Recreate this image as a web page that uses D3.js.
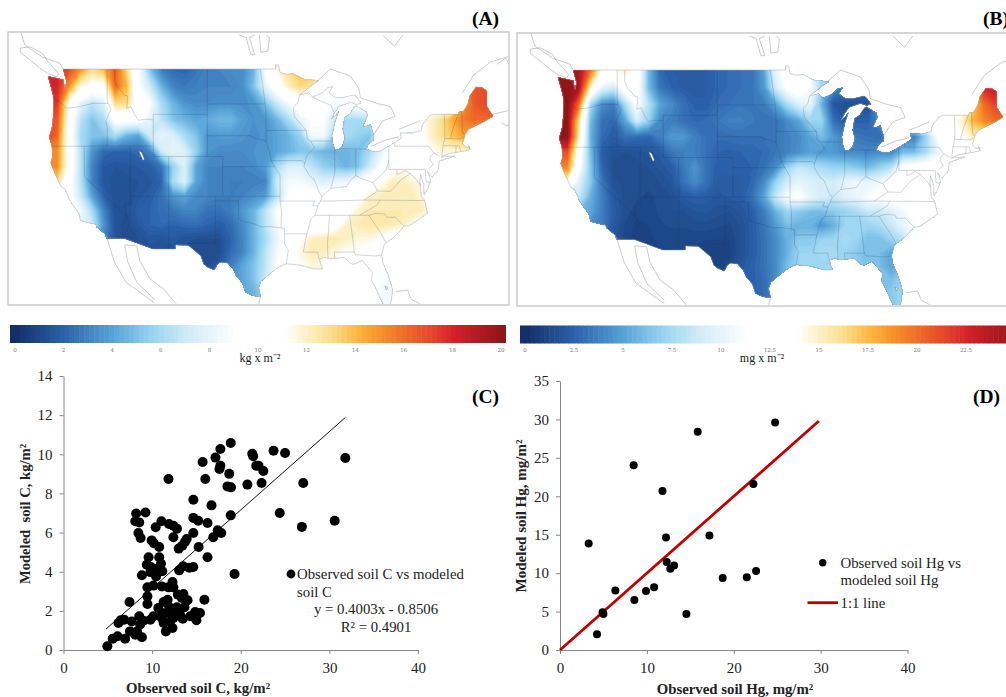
<!DOCTYPE html>
<html><head><meta charset="utf-8">
<style>html,body{margin:0;padding:0;background:#fff;overflow:hidden}svg{display:block}</style>
<script src="https://d3js.org/d3.v7.min.js"></script></head><body>
<svg id="c" width="1006" height="697" xmlns="http://www.w3.org/2000/svg"></svg>
<script>
// ---------- Soil fields (40 columns, -125..-66.5 by 1.5 deg; rows from 49 down to 25 N)
const fieldLons = d3.range(40).map(i => -125 + i * 1.5);
const fieldLats = [50.5, 49, 47.5, 46, 44.5, 43, 41.5, 40, 38.5, 37, 35.5, 34, 32.5, 31, 29.5, 28, 26.5, 25];
const soilC = [
[18,18,17,15,13,14,16.5,13,9,5,2.8,2.2,2,2.5,3,3,3.2,3.2,4.5,9,11.5,13,14,14,12,10,10,10,10,10,10,10,10,10,10,10,12,15,16,16],
[18,18,17,15,13,14,16.5,13,9,5,2.8,2.2,2,2.5,3,3,3.2,3.2,4.5,9,11.5,13,14,14,12,10,10,10,10,10,10,10,10,10,10,10,12,15,16,16],
[18,18,15,11.5,10.5,10.5,16,14,9,7,4.5,3,2.6,2.8,3,3,3,3.3,5,8,10,12,13,12.5,10,10,10,10,10,10,10,10,10,10,10,10,15,16.5,17,17],
[17.5,17.5,11,8,6.5,7.5,13,13,10,9,6,4.5,3.5,3.2,3.2,3.4,3.4,3.3,3.5,5,7,8.5,10,10,9.5,8.5,9,9.5,10,10,10,10,10,10,10,10,14,16.5,17,17],
[17,16.5,10.5,6.5,5,6,9.5,9.5,9.5,8,6.5,5,4.5,4,4.2,4.6,4.6,3.8,3.4,3.5,4.5,6,8,9,9,7,6,6,6.5,9,10,10,10,11.5,12.5,14,15.5,16,16,16],
[17.5,16,10,6,5,5,6,4.5,4,7,8,7.5,6,5,3.5,3.7,3.7,3.5,3.3,3.5,4,4.5,5.5,8.5,8.5,5.5,6,5.5,5,8,9.5,10,10,11.5,12.5,13.5,14.5,14.5,14,14],
[15,15,10.5,6.5,3.5,2.2,2,2,2.2,3,7,8,7.5,5.5,3.5,3.2,3.2,3.2,3.4,3.5,4,4.5,5,5,4.5,4.5,4.5,4.8,6,8,9.5,10,10,10.8,11.5,11.5,11.5,12,12,12],
[15,15,10.5,6.5,3,1.6,1.4,1.5,1.6,1.8,2.5,5.5,7.5,4,3,3,3,3,3.2,3.8,6,7.5,7.5,6.5,5.5,5,4.5,5,7,9,10.5,11,10.5,10,10,10,10,10,10,10],
[13,13,9.5,6.5,3,1.5,1.3,1.3,1.4,1.5,2,6,7.5,4,3,3,2.8,2.8,2.8,3,7,8.5,8.5,8,7.5,8,8.2,9,10,11,12,12,11.5,11,10,10,10,10,10,10],
[12,11,9.5,7,4,2,1.2,1.2,1.5,1.8,2.4,3.5,4,3.2,3,2.9,2.8,3,3.4,3.8,6.5,9,9.5,9.5,9.5,10,10,10.5,11.8,12,12,12,12,11,10,10,10,10,10,10],
[10,10,9.5,8.5,6,3,1.2,1.2,1.8,2,2.3,2.6,3,3,2.4,2.4,2.8,3.6,4.5,6.5,9,10,10,10,9.5,9.5,10.5,11.7,12.2,12.2,12.2,12.2,12.2,11.7,10,10,10,10,10,10],
[10,10,9,8,7,3.5,1.3,1.1,1.6,2,2.2,2,2.2,2.3,2,1.8,2.2,3.2,4.5,6.5,8.5,10,10,9.5,9.7,10.5,11.8,12.2,12.4,12.4,12.2,11.8,11,10,10,10,10,10,10,10],
[10,9,8,7,5,3,1.5,1,1.2,1.5,1.4,1.6,1.3,1.2,1.2,1.2,2,3,4.5,6,8,10,10.8,12,12.2,12.3,12,11.5,11.5,11,10,10,10,10,10,10,10,10,10,10],
[10,9,8,7,5,3,1.5,1,1.2,1.3,1.2,1.2,1.1,1,1,1.1,2.2,3,4.5,6.5,8.5,9.8,11.5,12.2,12,11.5,11,11,10.5,10,10,10,10,10,10,10,10,10,10,10],
[10,9,8,7,5,3,1.5,1.2,1.2,1.2,1.2,1.2,1.2,1.2,1.2,1.6,2.8,4,5,6.5,9,10,11,11.5,11.5,11,10.5,10,10,9.5,9,9,10,10,10,10,10,10,10,10],
[10,9,8,7,5,3,2,2,2,2,2,2,2,2,2,2,3.5,4,5,7,9.5,10,10.5,11,11,10.5,10,10,10,9,8,9,10,10,10,10,10,10,10,10],
[10,9,8,7,5,3,2,2,2,2,2,2,2,2,2,2,3.5,4,4.5,6,9,10,10,10,10,10,10,10,10,8.5,8.5,9,10,10,10,10,10,10,10,10],
[10,9,8,7,5,3,2,2,2,2,2,2,2,2,2,2,3.5,4,4.5,6,9,10,10,10,10,10,10,10,10,8.5,8.5,9,10,10,10,10,10,10,10,10]
];
const soilHg = [
[25,25,24,20,14,13.5,15,13,6,2.6,2.3,2,2,2.2,2.6,2.8,3,3,5,10,12.5,14.5,11,7,7,12,12,12,12,12,12,12,12,12,12,13,17,21,22,22],
[25,25,24,20,14,13.5,15,13,6,2.6,2.3,2,2,2.2,2.6,2.8,3,3,5,10,12.5,14.5,11,7,7,12,12,12,12,12,12,12,12,12,12,13,17,21,22,22],
[25,25,24,15,10,9,12.5,12.5,6,3.2,2.5,2.2,2,2.2,2.6,2.8,3,3.2,4.5,9,11.5,12.5,11,7,4,3,3,3,8,12,12,12,12,12,12,13,18,22.5,23,23],
[25,25,20,7.5,4,3.5,7.5,11.5,8,5,4,3,2.4,2.3,2.8,3,3.2,3.2,3.5,5,7.5,9.5,10,5.5,2,1.6,1.4,1.5,5,12,12,12,12,12,12,12.5,16,20,21.5,21.5],
[25,25,16,6,3,2.6,5,9,7,4,3.5,3,2.7,2.8,3.2,3.6,3.6,3.3,3,3,4,5,7,7,3,2,2.4,2.4,4,11,12.5,12.5,12.5,12.5,13,14.5,17.5,19,20,20],
[25,25,15,5.5,2.8,2.2,3,2.8,2.6,3.5,4.5,4.5,3.6,3,2.8,2.9,3,3,3,3.2,3.6,4,5,6,4.5,3.6,3.2,3,2.8,3.5,3.5,3.6,7,11,12.5,13.5,15,15,15,15],
[21,21,12.5,6,2.2,1.6,1.5,1.6,1.8,2.2,3.2,3.5,3.5,3,2.5,2.4,2.5,2.5,2.8,3.2,3.6,4.2,4.8,4.5,4.5,4,4,3.8,4,3.8,6,6,7.5,10,12.5,13,13,13,13,13],
[19,19,11.5,6.5,2.6,1.4,1.4,1.4,1.5,1.8,2.2,3.2,4.4,3,2.3,2.3,2.3,2.5,3,4,7,8.5,8,7.5,7,7,6.5,6,7,8,12,12.5,12.5,12.5,12.5,12.5,12.5,12.5,12.5,12.5],
[14,14,9.5,6.5,3.2,1.6,1.4,1.3,1.3,1.5,1.8,3,4,3,2.2,2.2,2.2,2.6,4,7,9,10,9.5,9,9,10,10.5,10,10.5,12,13,13.5,13,12.5,12.5,12.5,12.5,12.5,12.5,12.5],
[10,9,8.5,5.5,3.5,2,1.4,1.3,1.2,1.3,1.5,2,2.3,2.2,1.9,2,2.2,3,5,8.5,11,11.5,10,9,8.5,9.5,10,11,11.5,12,12.5,12.5,12.5,12.5,12.5,12.5,12.5,12.5,12.5,12.5],
[8,7,6,5,3.5,2.2,1.4,1.1,1.1,1.3,1.5,1.5,1.7,1.8,1.6,1.5,1.8,2.3,3.5,5.5,7,6.5,6,6,6.5,7,7.5,8.5,8.5,9.5,10.5,11.5,12,12,12,12,12,12,12,12],
[6,5,4.5,4,3.5,2,1.2,0.9,1,1.2,1.3,1.3,1.4,1.4,1.3,1.2,1.5,2.2,3.2,4.5,6,5.5,5.5,4.5,5.5,7,7,7,7.5,8.5,10,11,12,12,12,12,12,12,12,12],
[4,4,3,3,2.5,2,1.1,0.9,0.9,1.1,1,1,1,1,1,1,1.5,2.2,3,4,5.5,6.5,6.5,7,7,7.5,7,6,6,7,8,10,12,12,12,12,12,12,12,12],
[3,3,3,2,2,1.5,1,0.9,0.9,1,1,1,1,0.8,0.8,0.9,1.5,2.2,3,4,5.5,7,7,7.5,7.5,7,6.5,6,6,5,6,8,10,12,12,12,12,12,12,12],
[3,3,3,2,2,1.5,1,1,1,1,1,1,1,1,1,1.2,1.9,2.4,3,4,6,7,7,7,7,7,6.5,6,6,5,6,8,10,12,12,12,12,12,12,12],
[3,3,3,2,2,1.5,1,1,1,1,1,1,1,1,1.5,2,2.2,2.4,2.8,4,6,7,7,7,7,7,6.5,6,6,6,7,8,10,12,12,12,12,12,12,12],
[3,3,3,2,2,1.5,1,1,1,1,1,1,1,1,1.5,2,2.2,2.4,2.8,4,6,7,7,7,7,7,6.5,6,6,6.5,7,8,10,12,12,12,12,12,12,12],
[3,3,3,2,2,1.5,1,1,1,1,1,1,1,1,1.5,2,2.2,2.4,2.8,4,6,7,7,7,7,7,6.5,6,6,6.5,7,8,10,12,12,12,12,12,12,12]
];
// ---------- Colour ramp (share of the scale, colour)
const rampStops = [0, .1, .2, .275, .35, .45, .55, .6, .65, .7, .75, .8, .85, .9, 1];
const rampColors = ["#14306b","#2d64ad","#5aa5d9","#97d3f1","#d0ebf8","#ffffff","#ffffff","#fcefc0","#fbdc85","#fdb63f","#f68f2b","#ee6a28","#e5482a","#d2212a","#8d1518"];
// ---------- Colour bar ticks
const ticksBarA = [0,2,4,6,8,10,12,14,16,18,20];
const ticksBarB = [0,2.5,5,7.5,10,12.5,15,17.5,20,22.5,25];
// ---------- Scatter C
const obsC = [31.8,30.6,27.05,26.9,25,24.4,23.7,22.55,22.35,22,21.75,21.4,21.3,20.75,19.3,18.87,18.87,18.9,18.5,18.7,17.7,17.15,17.7,17.6,17.8,17.4,16.9,16.7,16.25,16.25,16,15.7,15.9,15.25,15.2,14.65,14.65,14.65,11.85,8.2,9.25,8.1,8.55,8.45,8.7,9.95,10.2,10.8,10.4,11.05,11.9,12.4,12.8,12.4,13,13.4,13.7,13.9,13.05,13.5,14.2,14.65,9.6,10.8,9.4,9.85,8.85,9.8,10.5,11,11.15,10.45,9.47,10.15,11.1,11.85,12.3,12.4,9.47,9.47,7.45,12.9,13.53,13.35,14,11.3,11.75,10.7,11.95,12.8,13.65,11.15,11.85,12.4,13.15,14.3,14.85,15.4,15,13.45,12.4,11.1,11.3,12,11.55,12.3,10.15,9.8,9,8.55,7.7,6.85,6.2,6.45,8.65,8.3,7.5,8.1,8.85,6.95,6.1,5.55,4.95];
const modC = [9.81,6.6,8.53,6.29,10.07,7,10.18,9.15,8.53,9.42,9.42,9.9,10.03,8.45,3.88,10.58,6.88,8.31,8.36,9,10.27,9.83,9.42,9.25,5.98,6.12,5.76,7.39,6.49,4.74,8.74,9.61,2.57,5.26,6.6,6.75,5.98,7.68,8.74,6.97,7.03,6.58,6.52,5.98,5.72,5.6,5.45,5.26,6.27,6.58,6.44,6.35,6.2,5.76,5.18,5.33,5.52,5.67,4.07,4.28,4.2,4.24,4.74,4.74,4.36,4.24,3.82,3.98,4.15,4.41,4.02,3.76,3.2,3.29,3.25,3.2,3.47,3.2,2.74,2.35,2.45,2.83,2.86,2.66,2.54,2.45,2.57,2.15,2.18,2.18,2.18,1.89,1.89,1.89,1.8,1.72,1.94,1.89,1.52,1.6,1.64,1.64,1.38,1.43,0.95,1.12,1.72,1.55,1.5,1.72,1.46,1.55,1.38,1.52,1.3,0.95,0.95,0.78,0.65,0.58,0.7,0.58,0.19];
const fitC = {slope: 0.4003, intercept: -0.8506, xFrom: 4.8, xTo: 31.8};
// ---------- Scatter D
const obsHg = [24.76,15.85,8.48,11.8,22.26,3.3,12.2,17.2,12.28,13.13,12.7,22.57,21.5,18.73,10.83,9.9,6.37,8.56,4.9,5,14.55,4.26];
const modHg = [29.6,28.4,24.05,20.7,21.6,13.87,14.65,14.9,11.44,11,10.57,10.27,9.45,9.36,8.15,7.67,7.75,6.5,4.9,4.68,4.68,2.04];
const oneToOne = [0, 29.8];
// ---------- Basemap in lon/lat
const usOutline = [[-124.7,48.38],[-123.1,48.15],[-122.75,48.15],[-122.5,47.3],[-122.3,47.9],[-122.75,49],[-95.15,49],[-95.15,49.38],[-94.8,49.3],[-94.6,48.7],[-93.8,48.55],[-92.95,48.62],[-92,48.3],[-91.4,48.07],[-90.75,48.1],[-89.6,48],[-90.5,47.6],[-92.1,46.75],[-90.9,46.95],[-90.4,46.55],[-89.1,46.95],[-88.4,47.4],[-87.8,47.47],[-88.3,46.95],[-87.4,46.5],[-86.5,46.5],[-85,46.75],[-84.6,46.47],[-84.1,46],[-84.7,45.9],[-85.5,46.08],[-86.5,45.85],[-87,45.7],[-87.6,45.1],[-88,44.55],[-87.4,44.9],[-87.05,45.25],[-87.5,44.3],[-87.9,43],[-87.8,42.3],[-87.5,41.65],[-87,41.7],[-86.5,42.1],[-86.2,42.8],[-86.5,43.6],[-86.25,44.7],[-85.6,45],[-85,45.65],[-84.75,45.78],[-83.4,45.2],[-83.3,44.8],[-83.9,43.9],[-83.4,43.9],[-82.9,44.05],[-82.45,43],[-82.5,42.6],[-83.1,42.25],[-83.45,41.73],[-82.7,41.5],[-81.7,41.5],[-80.5,42],[-79,42.7],[-78.9,42.9],[-79.05,43.27],[-77.5,43.25],[-76.3,43.5],[-76.2,44],[-75.3,44.85],[-74.7,45],[-71.5,45],[-71.4,45.25],[-70.85,45.25],[-70.3,45.9],[-70,46.7],[-69.2,47.45],[-68.3,47.35],[-67.8,47.07],[-67.8,45.7],[-67.45,45.3],[-67,44.85],[-68.2,44.3],[-69.1,44],[-70.2,43.6],[-70.7,43.05],[-70.8,42.6],[-71,42.3],[-70.6,41.95],[-70,41.8],[-70.2,42.07],[-69.95,41.68],[-70.65,41.55],[-71.4,41.45],[-72.9,41.25],[-73.7,40.95],[-72,41.05],[-73.95,40.55],[-74,40.4],[-74.1,39.7],[-74.9,38.95],[-75.5,39.5],[-75.1,38.7],[-75.4,37.9],[-75.95,37.15],[-76,38.2],[-76.4,39.2],[-76.5,38.4],[-76.3,37],[-75.9,36.6],[-75.5,35.25],[-76.5,34.65],[-77.9,33.9],[-78.55,33.85],[-79.2,33.2],[-80,32.55],[-81.1,31.9],[-81.45,30.7],[-81.3,29.8],[-80.6,28.4],[-80.05,26.8],[-80.15,25.75],[-80.4,24.8],[-81.1,24.8],[-81.8,26.1],[-82.2,26.9],[-82.75,27.8],[-82.65,28.7],[-83.3,29.4],[-84,30.1],[-85,29.65],[-85.4,29.7],[-86.3,30.4],[-87.5,30.3],[-88,30.25],[-88.9,30.4],[-89.5,30.2],[-89.4,29.8],[-89.1,29.1],[-90.2,29.1],[-91.3,29.4],[-92.2,29.55],[-93.8,29.7],[-94.7,29.4],[-95.9,28.6],[-97.1,27.7],[-97.4,27],[-97.15,25.95],[-97.6,25.95],[-98.2,26.05],[-99.1,26.4],[-99.5,27.5],[-100.3,28.3],[-100.7,29.1],[-101.4,29.77],[-102.3,29.88],[-102.7,29.7],[-103.15,28.98],[-104,29.3],[-104.5,29.65],[-104.9,30.6],[-106.5,31.75],[-108.2,31.78],[-108.2,31.33],[-111.07,31.33],[-114.8,32.5],[-117.12,32.53],[-117.3,33],[-118.4,33.75],[-118.5,34.03],[-119.2,34.15],[-120.5,34.45],[-120.65,35.15],[-121.9,36.6],[-122.5,37.75],[-123,38],[-123.8,39.3],[-124.35,40.4],[-124.1,41],[-124.2,42],[-124.55,42.85],[-124.1,44],[-123.95,46.2],[-124.1,46.9],[-124.7,48.38]];
const stateLines = [
[[-124,46.25],[-123.2,46.15],[-122.3,45.55],[-121,45.65],[-119.2,45.93],[-119,46],[-116.92,46]],
[[-117.03,49],[-117.04,46.4],[-116.92,46],[-116.5,45.5],[-116.9,44.9],[-117.2,44.4],[-117.03,43.8],[-117.03,42]],
[[-124.2,42],[-111.05,42]],
[[-120,42],[-120,39],[-114.63,35]],
[[-114.05,42],[-114.05,36.2],[-114.75,36.1],[-114.63,35],[-114.14,34.3],[-114.5,33.4],[-114.72,32.72]],
[[-116.05,49],[-116.05,48],[-115.7,47.45],[-114.7,46.7],[-114.35,46.65],[-114.5,45.55],[-113.95,45.7],[-113.45,44.95],[-113,44.45],[-112,44.55],[-111.05,44.48],[-111.05,42]],
[[-111.05,45],[-104.05,45],[-104.05,41],[-111.05,41],[-111.05,42]],
[[-111.05,45],[-111.05,44.48]],
[[-104.05,49],[-104.05,45]],
[[-104.05,45.94],[-96.56,45.94]],
[[-104.05,43],[-98.5,43],[-97.9,42.8],[-96.45,42.5]],
[[-104.05,41],[-102.05,41],[-102.05,37]],
[[-102.05,40],[-95.3,40]],
[[-109.05,41],[-109.05,31.33]],
[[-114.05,37],[-94.62,37]],
[[-103,37],[-103,32],[-106.6,32],[-106.5,31.75]],
[[-103,36.5],[-100,36.5],[-100,34.56],[-99.2,34.3],[-98,34.1],[-97,33.75],[-96,33.8],[-94.48,33.64]],
[[-94.62,37],[-94.62,36.5],[-94.43,35.4],[-94.48,33.64],[-94.04,33.55],[-94.04,31.9],[-93.55,31.2],[-93.8,29.7]],
[[-94.04,33],[-91.15,33],[-91.5,31.5],[-91.6,31],[-89.75,31],[-89.55,30.2]],
[[-91.15,33],[-90.6,34.6],[-90.1,35],[-89.7,36],[-89.4,36.5],[-89.15,37]],
[[-94.62,36.5],[-90.15,36.5],[-90.37,36],[-89.7,36]],
[[-97.2,49],[-96.85,47.5],[-96.56,45.94],[-96.45,45.3],[-96.45,42.5],[-96,41.5],[-95.8,40.6],[-95.3,40],[-94.62,39.1],[-94.62,37]],
[[-96.45,43.5],[-91.22,43.5]],
[[-95.77,40.58],[-91.73,40.6],[-91.42,40.38]],
[[-92.1,46.75],[-92.3,46.1],[-92.9,45.6],[-92.75,44.75],[-91.22,43.5],[-91.1,42.7],[-90.65,42.5],[-90.15,41.8],[-91.1,41.2],[-91.42,40.38],[-91.5,40],[-90.7,39],[-90.2,38.7],[-89.5,37.3],[-89.15,37]],
[[-90.65,42.5],[-87.8,42.5]],
[[-90.4,46.55],[-89.1,46.13],[-88,45.8],[-87.6,45.1]],
[[-87.53,41.7],[-87.53,39.35],[-87.95,38],[-88.05,37.8]],
[[-89.15,37],[-88.05,37.8],[-87,37.9],[-86,38],[-85.4,38.7],[-84.8,39.1],[-84,38.8],[-82.6,38.4],[-81.7,39],[-80.85,39.7],[-80.52,40.64]],
[[-84.8,39.1],[-84.8,41.73]],
[[-86.8,41.76],[-84.8,41.73],[-83.45,41.73]],
[[-80.52,42],[-80.52,39.72],[-75.8,39.72],[-75.7,38.46],[-75.05,38.45]],
[[-79.76,42.27],[-79.76,42],[-75.35,42],[-74.7,41.36],[-75.1,41],[-75.2,40.7],[-74.75,40.2],[-75.4,39.8]],
[[-74.7,41.36],[-73.9,41]],
[[-73.65,41],[-73.5,42.05],[-73.27,42.75],[-73.25,43.6],[-73.35,45]],
[[-71.5,45],[-72.05,44],[-72.45,43],[-72.45,42.73]],
[[-73.27,42.75],[-71.3,42.7],[-70.8,42.87]],
[[-73.5,42.05],[-71.38,42.02],[-71.2,41.5]],
[[-71.8,42.02],[-71.85,41.32]],
[[-71.08,45.3],[-70.98,43.4],[-70.7,43.07]],
[[-79.48,39.72],[-79.48,39.2],[-78.4,39.6],[-77.7,39.3],[-77.05,38.8],[-76.3,38]],
[[-77.7,39.3],[-78.85,38.75],[-80.3,37.5],[-81.97,37.54],[-83.68,36.6]],
[[-82.6,38.4],[-81.97,37.54]],
[[-75.9,36.55],[-81.68,36.59],[-83.68,36.6],[-88.07,36.5],[-89.4,36.5]],
[[-81.68,36.59],[-82,36.1],[-84.3,35]],
[[-90.1,35],[-83.1,35]],
[[-83.1,35],[-81.5,33],[-80.9,32.05]],
[[-83.1,35],[-82.3,35.2],[-81.05,35.15],[-80.8,34.8],[-79.67,34.8],[-78.55,33.85]],
[[-88.2,35],[-88.47,31.9],[-88.4,30.3]],
[[-85.6,35],[-85.15,32.2],[-85,31]],
[[-87.5,30.3],[-87.6,31],[-85,31],[-84.86,30.7],[-82.2,30.57],[-81.45,30.7]]
];
const contextLines = [
[[-128.3,50.75],[-127,50.85],[-125.4,50.3],[-124.8,49.7],[-123.3,48.6],[-123.6,48.32],[-124.7,48.6],[-125.8,49.1],[-126.9,49.7],[-128.3,50.4],[-128.3,50.75]],
[[-128.2,52],[-127.7,51],[-125.4,50],[-123.2,49.5],[-122.75,49]],
[[-117.15,32.8],[-116.1,29.9],[-114.6,27.6],[-110.9,25.2]],
[[-114.75,31.8],[-114.4,30],[-113.2,27.6],[-110.9,25.6]],
[[-114.7,31.8],[-113.2,31.7],[-112.8,30],[-111.5,28],[-109.7,26.8],[-108.1,25.1]],
[[-97.15,25.95],[-97.4,25]],
[[-79.6,26.5],[-78.1,26.7],[-77.6,25.6],[-76.5,25.1]],
[[-99.9,51.8],[-99,51.6],[-98.4,50.2],[-97.9,50.2],[-98.6,51.6],[-97.9,51.8]],
[[-97.3,51.8],[-97.1,50.4],[-96.2,50.5],[-96,51.6],[-96.4,51.8]],
[[-81.3,51.8],[-79.8,50.9],[-78.7,51.8]],
[[-71,46.9],[-69.5,48.5],[-67.3,49.6],[-64.7,50.1]],
[[-66.5,49.4],[-65.4,49.9],[-64.7,49.2]],
[[-67,45],[-64.7,45.4]],
[[-65.9,44.2],[-65.2,43.9],[-64.7,44.5]],
[[-89.9,47.9],[-88.1,49],[-85.5,48.4],[-84.4,47.3],[-84.2,46.5],[-82.1,46],[-80.3,45.7],[-79.7,44.8],[-81.3,44.4],[-82.6,43]],
[[-82.8,42],[-80.9,42.6],[-79.2,42.9]],
[[-79.2,43.6],[-76.5,44.4]]
];
const lakes = [
[[-112.95,41.55],[-112.55,41.4],[-112.2,40.75],[-112.4,40.6],[-112.8,41.1]],
[[-81,27.15],[-80.65,26.95],[-80.85,26.7],[-81.1,26.85]]
];

const svg = d3.select("#c");
const serif = "'Liberation Serif','Times New Roman',serif";
const proj0 = d3.geoMercator().scale(442).translate([0, 0]);
const nw = proj0([-124.7, 49]);
const projection = d3.geoMercator().scale(442).translate([48 - nw[0], 69 - nw[1]]);
const planar = d3.geoTransform({ point(x, y) { const p = projection([x, y]); this.stream.point(p[0], p[1]); } });
const gridToGeo = d3.geoTransform({ point(x, y) {
  const lon = -125 + (x - 0.5) * 1.5;
  const r = Math.max(0, Math.min(fieldLats.length - 1, y - 0.5));
  const i = Math.min(fieldLats.length - 2, Math.floor(r));
  const lat = fieldLats[i] + (fieldLats[i + 1] - fieldLats[i]) * (r - i);
  const p = projection([lon, lat]); this.stream.point(p[0], p[1]);
} });
const geoLine = d3.geoPath(planar), contourPath = d3.geoPath(gridToGeo);

function drawMap(id, rows, maxV, box, dx, dy) {
  const color = d3.scaleLinear().domain(rampStops.map(s => s * maxV)).range(rampColors).clamp(true);
  svg.append("rect").attr("x", box[0]).attr("y", box[1]).attr("width", box[2] - box[0]).attr("height", box[3] - box[1])
    .attr("fill", "#fff").attr("stroke", "#c6c6c6").attr("stroke-width", 1.4);
  const defs = svg.append("defs");
  defs.append("clipPath").attr("id", "us" + id).append("path").attr("d", geoLine({type: "Polygon", coordinates: [usOutline]}));
  defs.append("clipPath").attr("id", "bx" + id).append("rect")
    .attr("x", box[0] - dx + 1).attr("y", box[1] - dy + 1).attr("width", box[2] - box[0] - 2).attr("height", box[3] - box[1] - 2);
  defs.append("filter").attr("id", "soft" + id).append("feGaussianBlur").attr("stdDeviation", 0.35);
  const g = svg.append("g").attr("transform", `translate(${dx},${dy})`).append("g").attr("clip-path", `url(#bx${id})`).attr("filter", `url(#soft${id})`);
  const step = maxV / 100;
  const thresholds = d3.range(step, maxV, step);
  const flat = rows.flat();
  const contours = d3.contours().size([rows[0].length, rows.length]).thresholds(thresholds)(flat);
  const f = g.append("g").attr("clip-path", `url(#us${id})`);
  f.append("path").attr("d", geoLine({type: "Polygon", coordinates: [usOutline]})).attr("fill", color(0));
  f.selectAll("path.c").data(contours).join("path").attr("class", "c")
    .attr("d", d => contourPath(d)).attr("fill", d => color(d.value + step / 2));
  g.selectAll("path.l").data(lakes).join("path").attr("class", "l")
    .attr("d", d => geoLine({type: "Polygon", coordinates: [d]})).attr("fill", "#fff").attr("stroke", "#555").attr("stroke-width", .4);
  g.append("path").attr("d", geoLine({type: "MultiLineString", coordinates: stateLines}))
    .attr("fill", "none").attr("stroke", "#1d2c4a").attr("stroke-opacity", .36).attr("stroke-width", .55);
  g.append("path").attr("d", geoLine({type: "MultiLineString", coordinates: contextLines}))
    .attr("fill", "none").attr("stroke", "#a8a8a8").attr("stroke-width", .6);
  g.append("path").attr("d", geoLine({type: "LineString", coordinates: usOutline}))
    .attr("fill", "none").attr("stroke", "#a8a8a8").attr("stroke-width", .5);
}
function drawBar(id, maxV, ticks, x0, x1, barL, barR, unit, unitX) {
  const color = d3.scaleLinear().domain(rampStops.map(s => s * maxV)).range(rampColors).clamp(true);
  const x = d3.scaleLinear().domain([0, maxV]).range([x0, x1]);
  const g = svg.append("g");
  const n = 100, vals = d3.range(n + 1).map(i => x.invert(barL + (barR - barL) * i / n));
  g.selectAll("rect").data(vals.slice(0, n)).join("rect")
    .attr("x", d => x(d)).attr("y", id === "A" ? 325 : 325.5).attr("width", (barR - barL) / n + .5).attr("height", 18)
    .attr("fill", d => color(d));
  g.selectAll("text").data(ticks).join("text").attr("x", d => x(d)).attr("y", 352)
    .attr("text-anchor", "middle").attr("font-family", "'DejaVu Serif',serif").attr("font-size", 5.5).attr("fill", "#777").text(d => d);
  svg.append("text").attr("x", unitX).attr("y", 362).attr("text-anchor", "middle").attr("font-family", serif)
    .attr("font-size", 12).attr("fill", "#222").text(unit);
}
function axes(x, y, yTicks) {
  const gx = svg.append("g").attr("transform", `translate(0,${y.range()[0]})`)
    .call(d3.axisBottom(x).tickValues([0, 10, 20, 30, 40]).tickSize(4).tickSizeOuter(0).tickPadding(8));
  const gy = svg.append("g").attr("transform", `translate(${x.range()[0]},0)`)
    .call(d3.axisLeft(y).tickValues(yTicks).tickSize(4).tickSizeOuter(0).tickPadding(7));
  [gx, gy].forEach(g => {
    g.selectAll("path,line").attr("stroke", "#868686").attr("stroke-width", 1);
    g.selectAll("text").attr("font-family", serif).attr("font-size", 15).attr("fill", "#222");
    g.attr("font-family", null).attr("font-size", null);
  });
}
function text(t, x, y, o = {}) {
  const e = svg.append("text").attr("x", x).attr("y", y).attr("font-family", serif).attr("font-size", o.size || 14.8)
    .attr("fill", o.fill || "#222").attr("text-anchor", o.anchor || "start").text(t);
  if (o.bold) e.attr("font-weight", 700);
  if (o.rot) e.attr("transform", `rotate(-90 ${x} ${y})`);
  return e;
}

drawMap("A", soilC, 20, [8, 32, 509, 305], 0, 0);
drawMap("B", soilHg, 25, [517, 33, 1012, 306], 510, 1);
drawBar("A", 20, ticksBarA, 15, 501, 10, 505.5, "kg x m⁻²", 260);
drawBar("B", 25, ticksBarB, 525, 1015, 520, 1008, "mg x m⁻²", 762);
text("(A)", 499, 25, {size: 19.5, bold: true, fill: "#000", anchor: "end"});
text("(B)", 1009, 25, {size: 19.5, bold: true, fill: "#000", anchor: "end"});

// Panel C
const xC = d3.scaleLinear().domain([0, 40]).range([63.5, 418]);
const yC = d3.scaleLinear().domain([0, 14]).range([650, 376]);
axes(xC, yC, d3.range(0, 15, 2));
svg.append("line").attr("x1", xC(fitC.xFrom)).attr("y1", yC(fitC.slope * fitC.xFrom + fitC.intercept))
  .attr("x2", xC(fitC.xTo)).attr("y2", yC(fitC.slope * fitC.xTo + fitC.intercept)).attr("stroke", "#111").attr("stroke-width", 1);
svg.append("g").selectAll("circle").data(obsC).join("circle")
  .attr("cx", d => xC(d)).attr("cy", (d, i) => yC(modC[i])).attr("r", 5).attr("fill", "#000");
text("(C)", 499, 403, {size: 19.5, bold: true, fill: "#000", anchor: "end"});
svg.append("circle").attr("cx", 291).attr("cy", 574).attr("r", 4.4).attr("fill", "#000");
text("Observed soil C vs modeled", 297, 579);
text("soil C", 297, 596.5);
text("y = 0.4003x - 0.8506", 376, 614, {anchor: "middle"});
text("R² = 0.4901", 376, 632, {anchor: "middle"});
text("Observed soil C, kg/m²", 198, 693, {anchor: "middle", bold: true, size: 14.8});
text("Modeled  soil C, kg/m²", 30, 514, {anchor: "middle", bold: true, size: 14.6, rot: true}).style("white-space", "pre");

// Panel D
const xD = d3.scaleLinear().domain([0, 40]).range([560, 907.5]);
const yD = d3.scaleLinear().domain([0, 35]).range([650, 381]);
axes(xD, yD, d3.range(0, 36, 5));
svg.append("line").attr("x1", xD(oneToOne[0])).attr("y1", yD(oneToOne[0])).attr("x2", xD(oneToOne[1])).attr("y2", yD(oneToOne[1]))
  .attr("stroke", "#c00000").attr("stroke-width", 2.8);
svg.append("g").selectAll("circle").data(obsHg).join("circle")
  .attr("cx", d => xD(d)).attr("cy", (d, i) => yD(modHg[i])).attr("r", 4).attr("fill", "#000");
text("(D)", 1000, 403, {size: 19.5, bold: true, fill: "#000", anchor: "end"});
svg.append("circle").attr("cx", 822.7).attr("cy", 562.7).attr("r", 3.7).attr("fill", "#000");
text("Observed soil Hg vs", 840.5, 567.5);
text("modeled soil Hg", 840.5, 584.5);
svg.append("line").attr("x1", 807.5).attr("y1", 602.7).attr("x2", 838).attr("y2", 602.7).attr("stroke", "#c00000").attr("stroke-width", 2.8);
text("1:1 line", 840.5, 607.5);
text("Observed soil Hg, mg/m²", 735, 694, {anchor: "middle", bold: true, size: 14.8});
text("Modeled soil Hg, mg/m²", 525.5, 516, {anchor: "middle", bold: true, size: 15, rot: true});
</script></body></html>
